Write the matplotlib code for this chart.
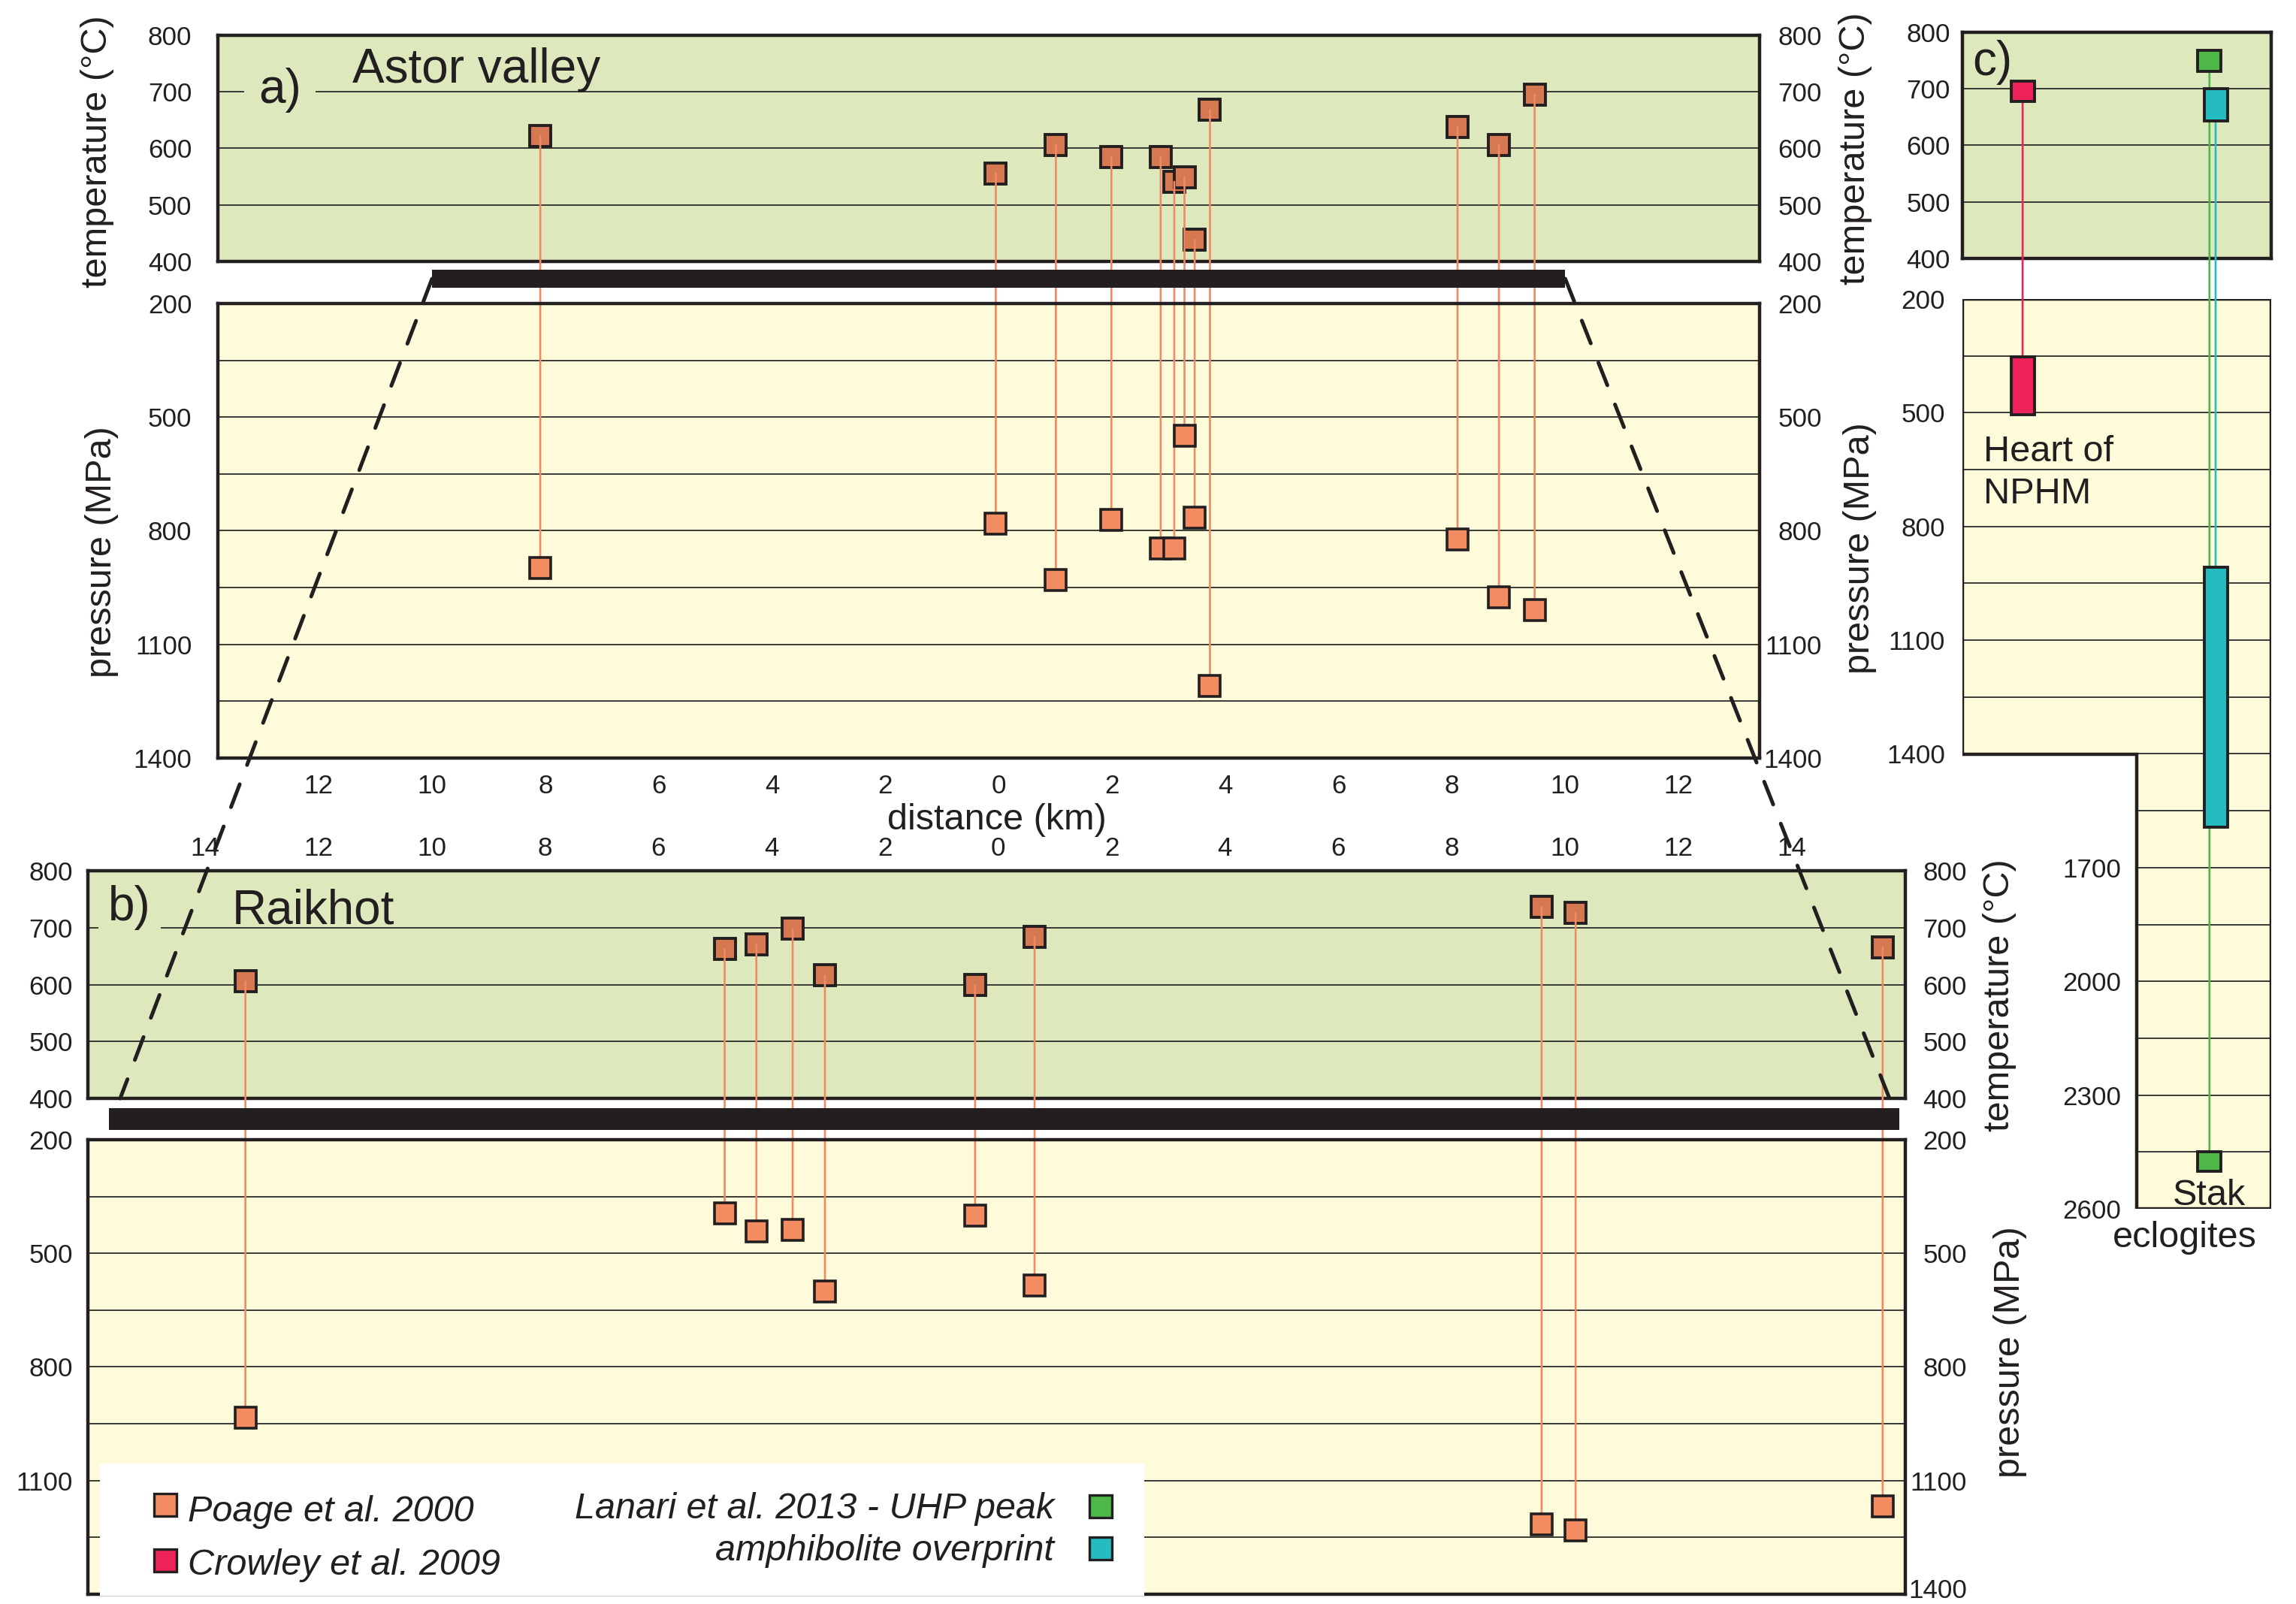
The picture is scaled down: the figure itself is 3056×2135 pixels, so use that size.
import matplotlib
matplotlib.use('Agg')
import matplotlib.pyplot as plt
from matplotlib.patches import Rectangle, Polygon, ConnectionPatch
from matplotlib.transforms import ScaledTranslation

plt.rcParams['font.family'] = ['Liberation Sans', 'DejaVu Sans']

# ---------------- data ----------------
# a) Astor valley (distance in km, negative = left of 0 on the profile)
astor_dist = [-8.09, -0.05, 1.01, 1.99, 2.86, 3.10, 3.28, 3.46, 3.73, 8.10, 8.83, 9.46]
astor_temp = [622, 556, 606, 585, 585, 541, 549, 438, 668, 638, 606, 695]
astor_pres = [898, 781, 930, 771, 846, 846, 549, 765, 1210, 823, 975, 1009]
astor_bar = [-10, 10]

# b) Raikhot
raikhot_dist = [-13.29, -4.83, -4.27, -3.63, -3.06, -0.41, 0.64, 9.59, 10.19, 15.61]
raikhot_temp = [606, 663, 670, 698, 616, 599, 684, 737, 726, 665]
raikhot_pres = [934, 394, 442, 438, 601, 400, 585, 1216, 1232, 1168]
raikhot_bar = [-15.7, 15.9]

# c) Heart of NPHM / Stak eclogites (ranges)
c_names = ['Crowley et al. 2009', 'Lanari et al. 2013 - UHP peak', 'amphibolite overprint']
c_temp_lo = [678, 731, 643]
c_temp_hi = [714, 768, 700]
c_pres_lo = [352, 2449, 907]
c_pres_hi = [506, 2501, 1594]

legend_labels = ['Poage et al. 2000', 'Crowley et al. 2009',
                 'Lanari et al. 2013 - UHP peak', 'amphibolite overprint']

temp_ticks = [400, 500, 600, 700, 800]
temp_grid = [500, 600, 700]
pres_ticks = [200, 500, 800, 1100, 1400]
pres_ticks_b_left = [200, 500, 800, 1100]
pres_grid = [350, 500, 650, 800, 950, 1100, 1250]
c_pres_ticks_upper = [200, 500, 800, 1100, 1400]
c_pres_ticks_lower = [1700, 2000, 2300, 2600]
c_pres_grid = [350, 500, 650, 800, 950, 1100, 1250, 1400, 1550, 1700,
               1850, 2000, 2150, 2300, 2450]
dist_ticks_a = [-12, -10, -8, -6, -4, -2, 0, 2, 4, 6, 8, 10, 12]
dist_ticks_b = [-14, -12, -10, -8, -6, -4, -2, 0, 2, 4, 6, 8, 10, 12, 14]

# ---------------- layout / style ----------------
W, H, DPI = 3056, 2135, 200
fig = plt.figure(figsize=(W / DPI, H / DPI), dpi=DPI)

GREEN = '#DDE9BD'
YELLOW = '#FEFBDA'
INK = '#231F20'
GRIDC = '#3A3A36'
T_FILL = '#D67852'
P_FILL = '#F48C62'
LINE = '#F08A64'
CRIMSON = '#EC2259'
LIME = '#4DB748'
TEAL = '#24BCBE'
c_colors = [CRIMSON, LIME, TEAL]
c_xpos = [0.195, 0.80, 0.82]
C_HW = 0.0377

FS_TICK = 12.6
FS_LAB = 17.5
FS_TITLE = 23

XLIM_A = (-13.78, 13.43)
XLIM_B = (-16.07, 16.01)


def rect(x0, y0, x1, y1):
    return [x0 / W, 1 - y1 / H, (x1 - x0) / W, (y1 - y0) / H]


def ftext(x, y, s, **kw):
    kw.setdefault('fontsize', FS_LAB)
    kw.setdefault('color', INK)
    kw.setdefault('zorder', 6)
    return fig.text(x / W, 1 - y / H, s, **kw)


def style(ax, bg):
    ax.set_facecolor(bg)
    for s in ax.spines.values():
        s.set_color(INK)
        s.set_linewidth(1.6)
    ax.tick_params(length=0, labelsize=FS_TICK, colors=INK)


def right_labels(ax, vals, off_px, x=1.0, lift=None):
    lift = lift or {}
    for v in vals:
        tr = ax.get_yaxis_transform() + ScaledTranslation(
            off_px / DPI, lift.get(v, 0) / DPI, fig.dpi_scale_trans)
        ax.text(x, v, str(v), transform=tr, ha='right', va='center_baseline',
                fontsize=FS_TICK, color=INK, clip_on=False)


def temp_axes(r, xlim, pad, z=1):
    ax = fig.add_axes(rect(*r), zorder=z)
    style(ax, GREEN)
    ax.set_xlim(*xlim)
    ax.set_ylim(400, 800)
    ax.set_yticks(temp_ticks)
    ax.tick_params(axis='y', pad=pad)
    ax.set_xticks([])
    for v in temp_grid:
        ax.axhline(v, color=GRIDC, lw=0.7, zorder=1)
    return ax


def pres_axes(r, xlim, pad, ticks, z=1.5):
    ax = fig.add_axes(rect(*r), zorder=z)
    style(ax, YELLOW)
    ax.set_xlim(*xlim)
    ax.set_ylim(1400, 200)
    ax.set_yticks(ticks)
    ax.tick_params(axis='y', pad=pad)
    ax.set_xticks([])
    for v in pres_grid:
        ax.axhline(v, color=GRIDC, lw=0.7, zorder=1)
    return ax


def bar_axes(r, xlim, span):
    ax = fig.add_axes(rect(*r), zorder=3)
    ax.set_xlim(*xlim)
    ax.set_ylim(0, 1)
    ax.set_axis_off()
    ax.axvspan(span[0], span[1], color=INK, lw=0)
    return ax


def draw_profile(axT, axP, dist, temp, pres):
    axT.plot(dist, temp, ls='none', marker='s', ms=10, mfc=T_FILL, mec=INK,
             mew=1.4, zorder=3, clip_on=False)
    for x, t, p in zip(dist, temp, pres):
        con = ConnectionPatch(xyA=(x, t), coordsA=axT.transData,
                              xyB=(x, p), coordsB=axP.transData,
                              color=LINE, lw=0.95, zorder=2, clip_on=False)
        axP.add_artist(con)
    axP.plot(dist, pres, ls='none', marker='s', ms=10, mfc=P_FILL, mec=INK,
             mew=1.3, zorder=3, clip_on=False)


# ---------------- panel a ----------------
axT_a = temp_axes((290, 47, 2342, 348), XLIM_A, 12.5)
axP_a = pres_axes((290, 404, 2342, 1009), XLIM_A, 12.5, pres_ticks)
axP_a.set_xticks(dist_ticks_a)
axP_a.set_xticklabels([str(abs(t)) for t in dist_ticks_a])
axP_a.tick_params(axis='x', pad=7.6)
bar_a = bar_axes((290, 359, 2342, 383), XLIM_A, astor_bar)
draw_profile(axT_a, axP_a, astor_dist, astor_temp, astor_pres)
right_labels(axT_a, temp_ticks, 83)
right_labels(axP_a, pres_ticks, 83)

ftext(344, 137, 'a)', fontsize=FS_TITLE, va='baseline',
      bbox=dict(boxstyle='square,pad=0.3', fc=GREEN, ec='none'), zorder=1.2)
ftext(469, 110, 'Astor valley', fontsize=FS_TITLE, va='baseline')

# ---------------- panel b ----------------
axT_b = temp_axes((117, 1159, 2536, 1462), XLIM_B, 7.2)
axT_b.xaxis.set_ticks_position('top')
axT_b.set_xticks(dist_ticks_b)
axT_b.set_xticklabels([str(abs(t)) for t in dist_ticks_b])
axT_b.tick_params(axis='x', pad=4.7, top=True, labeltop=True, bottom=False, labelbottom=False)
axP_b = pres_axes((117, 1517, 2536, 2122), XLIM_B, 7.2, pres_ticks_b_left)
bar_b = bar_axes((117, 1475, 2536, 1504), XLIM_B, raikhot_bar)
draw_profile(axT_b, axP_b, raikhot_dist, raikhot_temp, raikhot_pres)
right_labels(axT_b, temp_ticks, 82)
right_labels(axP_b, pres_ticks, 82, lift={1400: 8})

ftext(144, 1225, 'b)', fontsize=FS_TITLE, va='baseline',
      bbox=dict(boxstyle='square,pad=0.2', fc=GREEN, ec='none'), zorder=1.2)
ftext(309, 1229, 'Raikhot', fontsize=FS_TITLE, va='baseline')

# ---------------- panel c ----------------
axT_c = temp_axes((2612, 43, 3023, 344), (0, 1), 5.8)
axT_c_over = fig.add_axes(rect(2612, 43, 3023, 344), zorder=2.5)
axT_c_over.set_xlim(0, 1)
axT_c_over.set_ylim(400, 800)
axT_c_over.set_axis_off()

axP_c = fig.add_axes(rect(2612, 398, 3023, 1609), zorder=1.5)
axP_c.set_xlim(0, 1)
axP_c.set_ylim(2600, 200)
axP_c.set_axis_off()
XS = (2844 - 2612) / (3023 - 2612)
L_shape = [(0, 1), (1, 1), (1, 0), (XS, 0), (XS, 0.5), (0, 0.5)]
axP_c.add_patch(Polygon(L_shape, closed=True, transform=axP_c.transAxes,
                        fc=YELLOW, ec='none', zorder=0.5))
for v in c_pres_grid:
    if v < 1400:
        axP_c.axhline(v, 0, 1, color=GRIDC, lw=0.7, zorder=1)
    else:
        axP_c.axhline(v, XS, 1, color=GRIDC, lw=0.7, zorder=1)
axP_c.add_patch(Polygon(L_shape, closed=True, transform=axP_c.transAxes,
                        fc='none', ec=INK, lw=1.6, zorder=1.3, joinstyle='miter'))
right_labels(axP_c, c_pres_ticks_upper, -23, x=0.0)
right_labels(axP_c, c_pres_ticks_lower, -21, x=XS)

for cx, col, tlo, thi, plo, phi in zip(c_xpos, c_colors, c_temp_lo, c_temp_hi,
                                       c_pres_lo, c_pres_hi):
    con = ConnectionPatch(xyA=(cx, tlo), coordsA=axT_c.transData,
                          xyB=(cx, plo), coordsB=axP_c.transData,
                          color=col, lw=0.95, zorder=2, clip_on=False)
    axP_c.add_artist(con)
    axT_c_over.add_patch(Rectangle((cx - C_HW, tlo), 2 * C_HW, thi - tlo,
                                   fc=col, ec=INK, lw=1.4, zorder=3, clip_on=False))
    axP_c.add_patch(Rectangle((cx - C_HW, plo), 2 * C_HW, phi - plo,
                              fc=col, ec=INK, lw=1.4, zorder=3, clip_on=False))

ftext(2625, 100, 'c)', fontsize=FS_TITLE, va='baseline')
ftext(2640, 614, 'Heart of', va='baseline')
ftext(2640, 670, 'NPHM', va='baseline')
ftext(2940, 1604, 'Stak', va='baseline', ha='center')
ftext(2812, 1660, 'eclogites', va='baseline')

# ---------------- axis labels ----------------
ftext(129, 202, 'temperature (°C)', rotation=90, ha='center', va='center')
ftext(135, 735, 'pressure (MPa)', rotation=90, ha='center', va='center')
ftext(2470, 198, 'temperature (°C)', rotation=90, ha='center', va='center')
ftext(2476, 730, 'pressure (MPa)', rotation=90, ha='center', va='center')
ftext(2662, 1325, 'temperature (°C)', rotation=90, ha='center', va='center')
ftext(2675, 1800, 'pressure (MPa)', rotation=90, ha='center', va='center')
ftext(1327, 1104, 'distance (km)', ha='center', va='baseline')

# ---------------- dashed zoom lines ----------------
for xa, xb, yb in [(astor_bar[0], -15.5, 400), (astor_bar[1], 15.75, 395)]:
    con = ConnectionPatch(xyA=(xa, 0.5), coordsA=bar_a.transData,
                          xyB=(xb, yb), coordsB=axT_b.transData,
                          color=INK, lw=1.8, linestyle=(0, (6.5, 5.5)), zorder=5)
    fig.add_artist(con)

# ---------------- legend ----------------
fig.add_artist(Rectangle((133 / W, 1 - 2124 / H), (1523 - 133) / W, (2124 - 1948) / H,
                         transform=fig.transFigure, fc='white', ec='none', zorder=4))


def leg_square(cx, cy, col):
    fig.add_artist(Rectangle(((cx - 15) / W, 1 - (cy + 15) / H), 30 / W, 30 / H,
                             transform=fig.transFigure, fc=col, ec=INK, lw=1.2, zorder=5))


leg_square(219.5, 2002.5, P_FILL)
leg_square(219.5, 2076.5, CRIMSON)
leg_square(1464.5, 2004.5, LIME)
leg_square(1464.5, 2060.5, TEAL)
ftext(250, 2025, legend_labels[0], style='italic', va='baseline')
ftext(250, 2096, legend_labels[1], style='italic', va='baseline')
ftext(1403, 2021, legend_labels[2], style='italic', va='baseline', ha='right')
ftext(1403, 2077, legend_labels[3], style='italic', va='baseline', ha='right')

fig.savefig('out.png', dpi=DPI, facecolor='white')
